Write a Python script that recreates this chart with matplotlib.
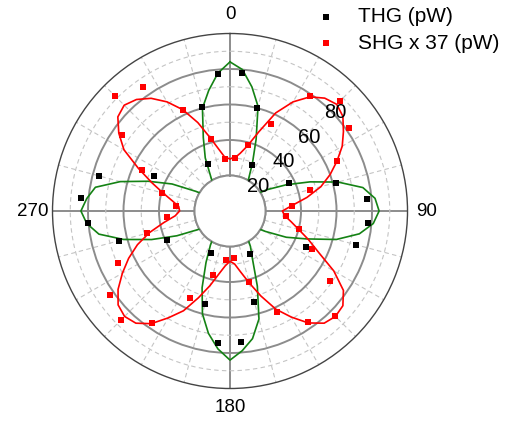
# THG / SHG polarisation polar plot

import numpy as np
import matplotlib
matplotlib.use('Agg')
import matplotlib.pyplot as plt

plt.rcParams['font.family'] = ['Liberation Sans', 'DejaVu Sans']

# measured points (angle in deg, signal in pW)
thg_angle = [5, 15, 25, 65, 75, 85, 95, 105, 115, 155, 165, 175,
             185, 195, 205, 245, 255, 265, 275, 285, 295, 335, 345, 355]
thg_pw = [78.1, 59.8, 28.8, 36.8, 61.8, 77.2, 78.1, 73.3, 47.5, 26.7, 53.1, 74.0,
          74.7, 54.5, 25.8, 39.0, 64.5, 80.2, 84.1, 76.2, 47.3, 29.2, 60.5, 77.2]

shg_angle = [5, 15, 25, 35, 45, 55, 65, 75, 85,
             95, 105, 115, 125, 135, 145, 155, 165, 175,
             185, 195, 205, 215, 225, 235, 245, 255, 265,
             275, 285, 295, 305, 315, 325, 335, 345, 355]
shg_pw = [29.7, 38.4, 54.0, 79.0, 87.4, 81.9, 66.3, 46.7, 34.8,
          31.4, 40.2, 51.2, 69.0, 83.7, 76.3, 62.8, 41.5, 26.3,
          27.6, 37.2, 53.8, 77.1, 87.0, 82.3, 69.8, 48.4, 35.6,
          30.6, 39.5, 55.0, 74.3, 92.0, 85.3, 62.5, 41.9, 29.6]

# fit curves, read every 5 deg
fit_angle = list(range(0, 365, 5))
thg_fit = [84, 80, 71, 61, 43, 30, 21, 14, 10, 9, 10, 15, 24, 35, 48, 63, 76, 82,
           84, 81, 74, 62, 46, 35, 23, 15, 10, 9, 11, 16, 23, 30, 45, 63, 73, 79,
           84, 78, 70, 60, 46, 32, 22, 14, 10, 9, 10, 14, 21, 33, 47, 62, 75, 81,
           84, 81, 77, 64, 49, 36, 22, 14, 10, 9, 10, 14, 21, 33, 44, 60, 69, 78,
           84]
shg_fit = [29.5, 30, 33, 38, 47.5, 61, 71, 78.5, 83, 85, 83, 78, 73, 66.5, 60, 53, 44, 35,
           29.5, 31, 35, 40, 47, 55, 67.5, 78, 83, 84, 82.5, 77, 69, 61, 51, 42, 35, 30,
           28.3, 31, 36, 43.5, 52, 62, 69.5, 77.5, 82.5, 84, 82.3, 77, 70, 63, 55.5, 47, 38, 31,
           28.4, 29, 33, 39, 47, 57, 69, 76.5, 82.5, 84.3, 82, 77.5, 71, 63, 53, 42.5, 35, 30,
           29.5]

r_labels = [20, 40, 60, 80]

fig = plt.figure(figsize=(5.23, 4.24), dpi=100)
ax = fig.add_axes([0.1004, 0.0837, 0.6788, 0.8373], projection='polar')
ax.set_theta_zero_location('N')
ax.set_theta_direction(-1)
ax.set_rlim(20, 100)
ax.set_rorigin(0)
ax.set_axisbelow(True)

ax.plot(np.radians(fit_angle), thg_fit, color='#148214', lw=1.2, zorder=3)
ax.plot(np.radians(fit_angle), shg_fit, color='#ff0000', lw=1.2, zorder=3)
ax.scatter(np.radians(thg_angle), thg_pw, marker='s', s=25, color='black',
           linewidths=0, zorder=4, label='THG (pW)')
ax.scatter(np.radians(shg_angle), shg_pw, marker='s', s=25, color='#ff0000',
           linewidths=0, zorder=4, label='SHG x 37 (pW)')

# grids
ax.set_xticks(np.radians([0, 90, 180, 270]))
ax.set_xticklabels(['0', '90', '180', '270'], fontsize=13.5)
ax.set_xticks(np.radians(np.arange(0, 360, 15)), minor=True)
ax.set_yticks(r_labels)
ax.set_yticklabels([])
ax.set_yticks([30, 50, 70, 90], minor=True)
ax.grid(True, which='major', color='#8c8c8c', lw=1.4, ls='-')
ax.grid(True, which='minor', color='#c4c4c4', lw=0.8, ls=(0, (4, 3)))
ax.tick_params(axis='x', which='major', direction='out', length=6, width=1,
               color='#555555', pad=1)
ax.tick_params(axis='x', which='minor', direction='in', length=4, width=0.8,
               color='#555555')
ax.tick_params(axis='y', which='both', length=0)
ax.spines['polar'].set_color('#444444')
ax.spines['polar'].set_linewidth(1.0)
ax.spines['inner'].set_color('#8c8c8c')
ax.spines['inner'].set_linewidth(1.4)

for r in r_labels:
    ang = 49 if r == 20 else 47
    ax.text(np.radians(ang), r + 1.0, str(r), fontsize=14.5, ha='center',
            va='center', zorder=5)

fig.legend(loc='upper left', bbox_to_anchor=(0.5685, 1.027), frameon=False,
           fontsize=15, handlelength=1.0, handletextpad=1.0, labelspacing=0.35,
           borderpad=0.4, scatterpoints=1)

fig.savefig('out.png', dpi=100)
